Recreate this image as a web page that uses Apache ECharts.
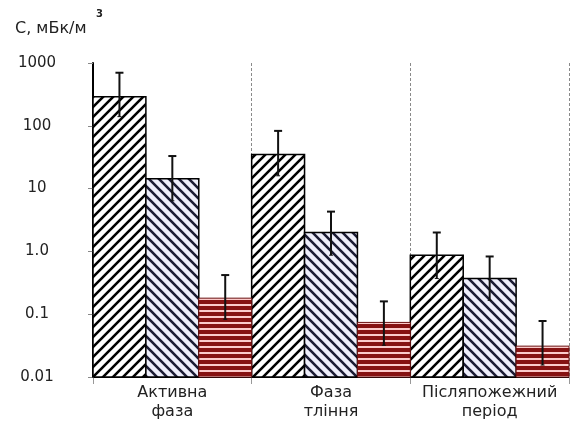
<!DOCTYPE html>
<html>
<head>
<meta charset="utf-8">
<script src="https://cdn.jsdelivr.net/npm/echarts@6/dist/echarts.min.js"></script>
<style>html,body{margin:0;padding:0;background:#fff}#c{width:574px;height:429px}</style>
</head>
<body>
<div id="c"></div>
<script>
var categories = ['Активна\nфаза', 'Фаза\nтління', 'Післяпожежний\nперіод'];
var series1 = [290, 35, 0.87];
var series1Low = [140, 16, 0.37];
var series1High = [700, 83, 2.0];
var series2 = [14.4, 2.0, 0.37];
var series2Low = [6.4, 0.87, 0.166];
var series2High = [33, 4.3, 0.83];
var series3 = [0.18, 0.074, 0.031];
var series3Low = [0.083, 0.032, 0.0155];
var series3High = [0.42, 0.16, 0.078];
var yMin = 0.01;
var yMax = 1000;
var yTickLabels = {'0.01': '0.01', '0.1': '0.1', '1': '1.0', '10': '10', '100': '100', '1000': '1000'};

var FONT = 'DejaVu Sans, Liberation Sans, Arial, sans-serif';

function makePattern(kind) {
  var c = document.createElement('canvas');
  var ctx;
  if (kind === 'fwd' || kind === 'back') {
    var s = 10;
    c.width = s; c.height = s;
    ctx = c.getContext('2d');
    ctx.fillStyle = kind === 'fwd' ? '#ffffff' : '#eeeefa';
    ctx.fillRect(0, 0, s, s);
    ctx.strokeStyle = kind === 'fwd' ? '#000000' : '#1c1c34';
    ctx.lineWidth = 2.6;
    ctx.beginPath();
    if (kind === 'fwd') {
      ctx.moveTo(-s, s); ctx.lineTo(s, -s);
      ctx.moveTo(0, s * 2); ctx.lineTo(s * 2, 0);
      ctx.moveTo(0, s); ctx.lineTo(s, 0);
    } else {
      ctx.moveTo(0, 0); ctx.lineTo(s, s);
      ctx.moveTo(-s, 0); ctx.lineTo(s, s * 2);
      ctx.moveTo(0, -s); ctx.lineTo(s * 2, s);
    }
    ctx.stroke();
  } else {
    c.width = 6; c.height = 6;
    ctx = c.getContext('2d');
    ctx.fillStyle = '#fbcaca';
    ctx.fillRect(0, 0, 6, 6);
    ctx.fillStyle = '#861212';
    ctx.fillRect(0, 0, 6, 4);
  }
  return {image: c, repeat: 'repeat'};
}

var chart = echarts.init(document.getElementById('c'));

function barSeries(idx, values, fill, border, bw) {
  var data = categories.map(function (c, i) { return [i, values[i]]; });
  return {
    type: 'custom',
    z: 5,
    data: data,
    renderItem: function (params, api) {
      var band = api.size([1, 1])[0];
      var w = band / 3;
      var top = api.coord([api.value(0), api.value(1)]);
      var base = api.coord([api.value(0), yMin]);
      var x0 = top[0] - band / 2 + idx * w;
      return {
        type: 'rect',
        shape: {x: x0, y: top[1], width: w, height: base[1] - top[1]},
        style: {fill: fill, stroke: border, lineWidth: bw}
      };
    }
  };
}

function errorSeries(idx, low, high) {
  var data = categories.map(function (c, i) { return [i, low[i], high[i]]; });
  return {
    type: 'custom',
    z: 10,
    data: data,
    renderItem: function (params, api) {
      var band = api.size([1, 1])[0];
      var w = band / 3;
      var pLow = api.coord([api.value(0), api.value(1)]);
      var pHigh = api.coord([api.value(0), api.value(2)]);
      var x = pLow[0] + (idx - 1) * w;
      var cap = 4;
      return {
        type: 'group',
        children: [
          {type: 'line', shape: {x1: x, y1: pLow[1], x2: x, y2: pHigh[1]}, style: {stroke: '#111', lineWidth: 2}},
          {type: 'line', shape: {x1: x - cap, y1: pHigh[1], x2: x + cap, y2: pHigh[1]}, style: {stroke: '#111', lineWidth: 2}},
          {type: 'line', shape: {x1: x - 2, y1: pLow[1], x2: x + 2, y2: pLow[1]}, style: {stroke: '#111', lineWidth: 1}}
        ]
      };
    }
  };
}

var option = {
  animation: false,
  grid: {left: 93, right: 5, top: 63, bottom: 52},
  graphic: [
    {type: 'text', left: 15, top: 21, style: {text: 'С, мБк/м', fontSize: 16, fontFamily: FONT, fill: '#222'}},
    {type: 'text', left: 96, top: 9, style: {text: '3', fontSize: 10, fontWeight: 'bold', fontFamily: FONT, fill: '#222'}}
  ],
  xAxis: {
    type: 'category',
    data: categories,
    axisLine: {show: true, lineStyle: {color: '#000', width: 1}},
    axisTick: {show: true, interval: 0, length: 7, lineStyle: {color: '#999'}},
    splitLine: {show: true, interval: 0, lineStyle: {color: '#8a8a8a', type: [3, 2], width: 1}},
    axisLabel: {interval: 0, color: '#222', fontSize: 16, lineHeight: 19, margin: 6, fontFamily: FONT}
  },
  yAxis: {
    type: 'log',
    logBase: 10,
    min: yMin,
    max: yMax,
    axisLine: {show: true, lineStyle: {color: '#000', width: 2}},
    axisTick: {show: true, length: 5, lineStyle: {color: '#888'}},
    splitLine: {show: false},
    axisLabel: {
      color: '#222', fontSize: 15, align: 'center', margin: 56,
      fontFamily: FONT,
      formatter: function (v) {
        var k = String(+v.toPrecision(3));
        return yTickLabels[k] !== undefined ? yTickLabels[k] : '';
      }
    }
  },
  series: [
    barSeries(0, series1, makePattern('fwd'), '#000', 1.5),
    barSeries(1, series2, makePattern('back'), '#000', 1.5),
    barSeries(2, series3, makePattern('red'), '#6a1010', 1),
    errorSeries(0, series1Low, series1High),
    errorSeries(1, series2Low, series2High),
    errorSeries(2, series3Low, series3High)
  ]
};
chart.setOption(option);
</script>
</body>
</html>
